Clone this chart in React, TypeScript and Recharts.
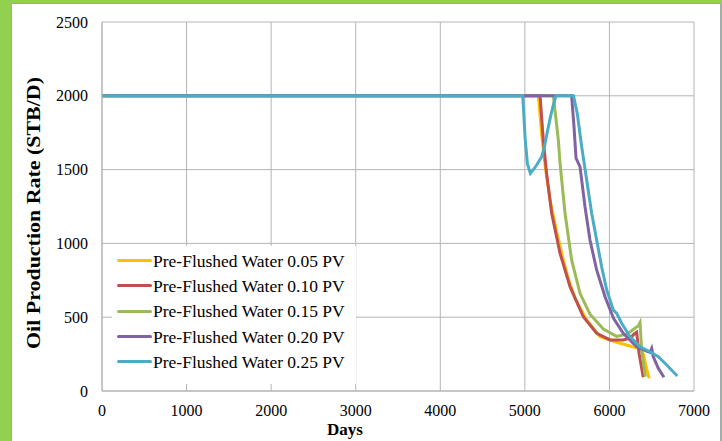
import React from 'react';
import { LineChart, Line, XAxis, YAxis, CartesianGrid } from 'recharts';

const X_TICKS = [0, 1000, 2000, 3000, 4000, 5000, 6000, 7000];
const Y_TICKS = [0, 500, 1000, 1500, 2000, 2500];

// [days, rate]
const PV005 = [
  [0, 2000], [5160, 2000], [5200, 1730], [5238, 1530], [5300, 1290], [5376, 1080],
  [5450, 900], [5514, 760], [5600, 620], [5731, 481], [5889, 368], [6086, 330],
  [6243, 305], [6362, 285], [6401, 250], [6440, 150], [6470, 86],
];
const PV010 = [
  [0, 2000], [5180, 2000], [5218, 1700], [5258, 1470], [5317, 1204], [5416, 933],
  [5534, 707], [5691, 503], [5849, 391], [6007, 346], [6164, 346], [6250, 360],
  [6290, 385], [6322, 398], [6350, 255], [6400, 93],
];
const PV015 = [
  [0, 2000], [5337, 2000], [5356, 1904], [5396, 1700], [5416, 1543], [5475, 1204],
  [5553, 888], [5652, 662], [5770, 520], [5928, 420], [6086, 370], [6200, 385],
  [6243, 400], [6302, 425], [6340, 440], [6362, 464], [6381, 278], [6425, 97],
];
const PV020 = [
  [0, 2000], [5553, 2000], [5580, 1800], [5605, 1577], [5652, 1520], [5711, 1249],
  [5770, 1023], [5849, 820], [5948, 639], [6050, 490], [6164, 391], [6322, 300],
  [6440, 270], [6480, 262], [6500, 289], [6519, 232], [6578, 153], [6645, 93],
];
const PV025 = [
  [0, 2000], [4975, 2000], [4990, 1850], [5002, 1720], [5030, 1540], [5065, 1475],
  [5100, 1500], [5140, 1531], [5199, 1587], [5230, 1650], [5258, 1734], [5300, 1850],
  [5337, 1938], [5368, 2000], [5575, 2000], [5620, 1880], [5672, 1655], [5731, 1429],
  [5790, 1204], [5849, 1023], [5908, 842], [5968, 684], [6007, 617], [6046, 549],
  [6086, 526], [6145, 459], [6243, 368], [6362, 300], [6480, 266], [6578, 232],
  [6677, 176], [6803, 102],
];

const SERIES = [
  { name: 'Pre-Flushed Water 0.05 PV', color: '#FFC000', points: PV005 },
  { name: 'Pre-Flushed Water 0.10 PV', color: '#C0504D', points: PV010 },
  { name: 'Pre-Flushed Water 0.15 PV', color: '#9BBB59', points: PV015 },
  { name: 'Pre-Flushed Water 0.20 PV', color: '#8064A2', points: PV020 },
  { name: 'Pre-Flushed Water 0.25 PV', color: '#4BACC6', points: PV025 },
];

const FONT = "'Times New Roman', 'Liberation Serif', serif";
const GRID = '#b4b4b4';

function LegendBox() {
  return (
    <div style={{
      position: 'absolute', left: 112, top: 246, width: 244, height: 138,
      background: '#fff', padding: '2px 0 0 5px', boxSizing: 'border-box', fontFamily: FONT,
    }}>
      {SERIES.map((s) => (
        <div key={s.name} style={{ display: 'flex', alignItems: 'center', height: 25.3 }}>
          <div style={{ width: 35, height: 3, background: s.color, borderRadius: 1.5 }} />
          <span style={{ marginLeft: 1, fontSize: 17.5, lineHeight: '20px', color: '#000', whiteSpace: 'nowrap' }}>{s.name}</span>
        </div>
      ))}
    </div>
  );
}

export default function App() {
  return (
    <div style={{ position: 'absolute', left: 0, top: 0, width: 722, height: 441, background: '#92D050', overflow: 'hidden' }}>
      <div style={{
        position: 'absolute', left: 11, top: 3, width: 708, height: 450,
        background: '#fff', border: '1px solid #a6a6a6',
      }} />
      <div style={{ position: 'absolute', left: 0, top: 0 }}>
        <LineChart width={722} height={441} margin={{ top: 22, right: 28, bottom: 0, left: 0 }}>
          <CartesianGrid stroke={GRID} strokeWidth={1} />
          <XAxis
            type="number"
            dataKey="x"
            domain={[0, 7000]}
            ticks={X_TICKS}
            height={50}
            tickLine={false}
            tickMargin={8}
            stroke={GRID}
            tick={{ fill: '#000', fontSize: 16, fontFamily: FONT }}
            allowDuplicatedCategory={false}
            label={() => (
              <text x={345} y={435} textAnchor="middle" fontFamily={FONT} fontWeight="bold" fontSize={17} fill="#000">
                Days
              </text>
            )}
          />
          <YAxis
            type="number"
            domain={[0, 2500]}
            ticks={Y_TICKS}
            width={102}
            tickLine={false}
            tickMargin={8}
            stroke={GRID}
            tick={{ fill: '#000', fontSize: 16, fontFamily: FONT }}
            label={() => (
              <text
                x={34}
                y={213}
                transform="rotate(-90 34 213)"
                textAnchor="middle"
                dominantBaseline="central"
                fontFamily={FONT}
                fontWeight="bold"
                fontSize={18}
                textLength={272}
                lengthAdjust="spacingAndGlyphs"
                fill="#000"
              >
                Oil Production Rate (STB/D)
              </text>
            )}
          />
          {SERIES.map((s) => (
            <Line
              key={s.name}
              name={s.name}
              data={s.points.map(([x, y]) => ({ x, y }))}
              dataKey="y"
              type="linear"
              stroke={s.color}
              strokeWidth={3}
              dot={false}
              activeDot={false}
              isAnimationActive={false}
            />
          ))}
        </LineChart>
      </div>
      <LegendBox />
    </div>
  );
}
